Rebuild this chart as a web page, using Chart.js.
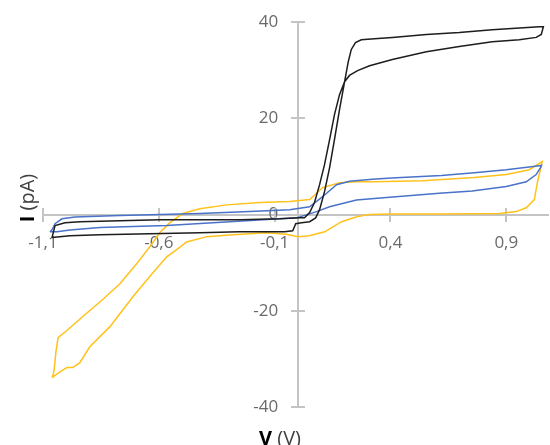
<!DOCTYPE html>
<html>
<head>
<meta charset="utf-8">
<script src="https://cdn.jsdelivr.net/npm/chart.js@4.4.1/dist/chart.umd.min.js"></script>
<style>
  html, body { margin: 0; padding: 0; background: #ffffff; }
  #c { display: block; }
</style>
</head>
<body>
<canvas id="c" width="550" height="445"></canvas>
<script>
// Tick positions
const xTicks = [-1.1, -0.6, -0.1, 0.4, 0.9];
const yTicks = [-40, -20, 0, 20, 40];

// Sample 1 (black): voltage sweep V and current I in pA, one closed loop
const blackV = [-1.061, -1.048, -1.005, -0.94, -0.768, -0.596, -0.423, -0.251, -0.078, 0.008,
  0.029, 0.051, 0.072, 0.094, 0.115, 0.137, 0.158, 0.18, 0.202, 0.223, 0.258, 0.31, 0.408,
  0.555, 0.697, 0.839, 0.956, 1.029, 1.051, 1.06, 1.042, 0.839, 0.697, 0.555, 0.408, 0.331,
  0.274, 0.249, 0.231, 0.218, 0.202, 0.18, 0.158, 0.137, 0.115, 0.094, 0.077, 0.051, 0.016,
  -0.009, -0.022, -0.057, -0.251, -0.423, -0.639, -0.854, -0.984, -1.061];
const blackI = [-4.8, -2.3, -1.7, -1.5, -1.3, -1.1, -1.1, -1.1, -0.9, -0.7,
  -0.7, 0.4, 2.5, 6.2, 10.3, 15.5, 20.7, 24.9, 27.6, 28.9, 29.9, 30.9, 32.2,
  33.8, 34.9, 35.9, 36.3, 36.8, 37.4, 39.0, 39.0, 38.4, 37.8, 37.4, 36.8, 36.5,
  36.3, 35.7, 34.3, 31.8, 27.6, 21.8, 15.5, 9.7, 4.7, 1.0, -0.7, -1.5, -1.7,
  -1.9, -3.4, -3.6, -3.6, -3.8, -4.0, -4.2, -4.4, -4.8];

// Sample 2 (blue)
const blueV = [-1.07, -1.061, -1.048, -1.018, -0.962, -0.768, -0.596, -0.423, -0.208, -0.035,
  0.051, 0.107, 0.167, 0.223, 0.322, 0.404, 0.62, 0.762, 0.9, 1.034, 1.052,
  1.047, 1.029, 0.986, 0.9, 0.753, 0.611, 0.396, 0.253, 0.137, 0.081, -0.005, -0.078,
  -0.294, -0.566, -0.854, -0.984, -1.04, -1.07];
const blueI = [-3.6, -3.2, -1.9, -0.9, -0.5, -0.2, 0.0, 0.2, 0.6, 1.0,
  1.6, 3.7, 6.2, 6.9, 7.3, 7.6, 8.1, 8.7, 9.3, 10.1, 10.2,
  9.7, 8.3, 6.8, 5.8, 4.9, 4.4, 3.6, 3.0, 1.6, 0.6, -0.7, -0.9,
  -1.5, -2.3, -2.7, -3.2, -3.6, -3.6];

// Sample 3 (yellow)
const yellowV = [-1.061, -1.053, -1.044, -1.035, -0.997, -0.928, -0.841, -0.768, -0.695, -0.639,
  -0.596, -0.552, -0.497, -0.423, -0.307, -0.165, -0.035, 0.051, 0.107, 0.18, 0.253, 0.331,
  0.538, 0.762, 0.9, 0.999, 1.055, 1.047, 1.034, 1.021, 0.986, 0.943, 0.87, 0.611, 0.396,
  0.31, 0.258, 0.189, 0.116, 0.05, 0.0, -0.05, -0.135, -0.281, -0.393, -0.48, -0.523,
  -0.566, -0.639, -0.712, -0.811, -0.898, -0.941, -0.971, -0.997, -1.027, -1.061];
const yellowI = [-33.9, -32.7, -28.5, -25.6, -24.1, -21.2, -17.6, -14.4, -10.2, -6.7,
  -3.8, -1.7, 0.2, 1.2, 2.0, 2.5, 2.7, 3.1, 5.6, 6.6, 6.8, 6.8,
  7.0, 7.7, 8.3, 9.3, 11.0, 9.3, 6.6, 3.1, 1.4, 0.6, 0.2, 0.1, 0.1,
  0.0, -0.4, -1.5, -3.6, -4.4, -4.6, -4.1, -3.8, -4.2, -4.6, -5.7, -7.3,
  -8.8, -12.9, -17.1, -23.3, -27.5, -30.8, -31.8, -31.8, -32.7, -33.9];

function points(v, i) {
  return v.map((x, k) => ({ x: x, y: i[k] }));
}

const axisGray = '#c4c4c4';
const labelGray = '#6a6a6a';
const fontFamily = '"Open Sans", "Noto Sans", sans-serif';

// Tick marks that cross the axis lines on both sides
const crossTicks = {
  id: 'crossTicks',
  beforeDatasetsDraw(chart) {
    const { ctx, scales: { x, y } } = chart;
    const x0 = Math.round(x.getPixelForValue(0));
    const y0 = Math.round(y.getPixelForValue(0));
    ctx.save();
    ctx.strokeStyle = axisGray;
    ctx.lineWidth = 2;
    ctx.beginPath();
    x.ticks.forEach(t => {
      const px = Math.round(x.getPixelForValue(t.value));
      ctx.moveTo(px, y0 - 7);
      ctx.lineTo(px, y0 + 7);
    });
    y.ticks.forEach(t => {
      const py = Math.round(y.getPixelForValue(t.value));
      ctx.moveTo(x0 - 7, py);
      ctx.lineTo(x0 + 7, py);
    });
    ctx.stroke();
    ctx.restore();
  }
};

// Axis titles with a bold symbol followed by the unit
const axisTitles = {
  id: 'axisTitles',
  afterDraw(chart) {
    const { ctx } = chart;
    const bold = '700 20px ' + fontFamily;
    const normal = '400 20px ' + fontFamily;

    function drawPair(sym, unit, cx, cy, rot) {
      ctx.save();
      ctx.translate(cx, cy);
      ctx.rotate(rot);
      ctx.textBaseline = 'alphabetic';
      ctx.font = bold;
      const w1 = ctx.measureText(sym).width;
      ctx.font = normal;
      const w2 = ctx.measureText(' ' + unit).width;
      const start = -(w1 + w2) / 2;
      ctx.textAlign = 'left';
      ctx.font = bold;
      ctx.fillStyle = '#000000';
      ctx.fillText(sym, start, 0);
      ctx.font = normal;
      ctx.fillStyle = '#404040';
      ctx.fillText(' ' + unit, start + w1, 0);
      ctx.restore();
    }

    drawPair('V', '(V)', 280, 445, 0);
    drawPair('I', '(pA)', 34, 198, -Math.PI / 2);
  }
};

const lineStyle = { showLine: true, pointRadius: 0, borderWidth: 1.5, tension: 0, fill: false };
const tickFont = { family: fontFamily, size: 17 };

new Chart(document.getElementById('c'), {
  type: 'scatter',
  data: {
    datasets: [
      Object.assign({ label: 'black', data: points(blackV, blackI), borderColor: '#1d1d1d' }, lineStyle),
      Object.assign({ label: 'blue', data: points(blueV, blueI), borderColor: '#4a72c8' }, lineStyle),
      Object.assign({ label: 'yellow', data: points(yellowV, yellowI), borderColor: '#ffc21a' }, lineStyle)
    ]
  },
  options: {
    responsive: false,
    animation: false,
    devicePixelRatio: 1,
    layout: { padding: { left: 43, right: 2, top: 22, bottom: 38 } },
    plugins: { legend: { display: false }, tooltip: { enabled: false } },
    scales: {
      x: {
        type: 'linear',
        min: -1.1,
        max: 1.08,
        position: { y: 0 },
        afterBuildTicks: s => { s.ticks = xTicks.map(v => ({ value: v })); },
        afterFit: s => { s.height = 0; },
        grid: { drawOnChartArea: false, drawTicks: false, color: axisGray },
        border: { display: true, color: axisGray, width: 2 },
        ticks: {
          autoSkip: false,
          maxRotation: 0,
          padding: 18,
          color: labelGray,
          font: tickFont,
          callback: v => Number(v).toFixed(1).replace('.', ',')
        }
      },
      // vertical axis line through V = 0
      y: {
        type: 'linear',
        min: -40,
        max: 40,
        position: { x: 0 },
        afterBuildTicks: s => { s.ticks = yTicks.map(v => ({ value: v })); },
        afterFit: s => { s.width = 0; },
        grid: { drawOnChartArea: false, drawTicks: false, color: axisGray },
        border: { display: true, color: axisGray, width: 2 },
        ticks: { display: false }
      },
      // current labels, set a little to the left of the vertical axis line
      yLabels: {
        type: 'linear',
        axis: 'y',
        min: -40,
        max: 40,
        position: { x: -0.085 },
        afterBuildTicks: s => { s.ticks = yTicks.map(v => ({ value: v })); },
        afterFit: s => { s.width = 0; },
        grid: { display: false },
        border: { display: false },
        ticks: {
          autoSkip: false,
          color: labelGray,
          font: tickFont,
          callback: v => String(v)
        }
      }
    }
  },
  plugins: [crossTicks, axisTitles]
});
</script>
</body>
</html>
